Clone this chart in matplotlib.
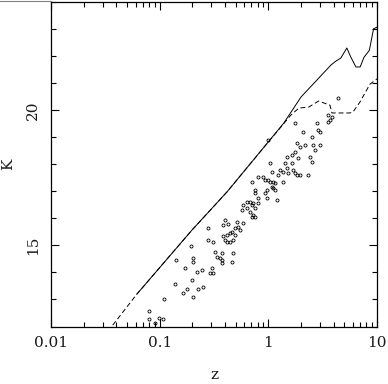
import matplotlib
matplotlib.use("Agg")
import matplotlib.pyplot as plt
from matplotlib.lines import Line2D
from matplotlib.ticker import MultipleLocator, FixedLocator, FixedFormatter, LogLocator, NullFormatter

# ── Data ──────────────────────────────────────────────────────────────────────

# solid model track
solid_z = [0.0618, 0.198, 0.416, 1.0, 1.39, 2.0, 3.77, 4.17, 4.65, 5.28,
           5.75, 6.4, 7.0, 7.6, 8.5, 9.3, 10.0]
solid_k = [13.2, 15.56, 16.97, 18.82, 19.52, 20.48, 21.66, 21.8, 21.92, 22.29,
           21.95, 21.59, 21.59, 21.95, 22.2, 23.0, 23.06]

# dashed model track
dash_z = [0.037, 0.0618, 0.198, 0.416, 1.0, 1.39, 1.6, 1.91, 2.36, 2.9,
          3.69, 3.85, 4.37, 5.63, 6.0, 6.96, 8.6, 10.0]
dash_k = [12.05, 13.2, 15.56, 16.97, 18.82, 19.5, 19.8, 20.07, 20.11, 20.33,
          20.18, 19.89, 19.89, 19.89, 19.92, 20.29, 20.95, 21.15]

# galaxies
gal_z = [0.0797, 0.0797, 0.0905, 0.0985, 0.107, 0.110, 0.138, 0.141, 0.164, 0.171,
         0.178, 0.198, 0.203, 0.203, 0.203, 0.220, 0.225, 0.194,
         0.399, 0.382, 0.425, 0.514, 0.525, 0.493, 0.462, 0.443, 0.416, 0.493,
         0.382, 0.278, 0.278, 0.309, 0.399, 0.416, 0.443, 0.472, 0.323, 0.374,
         0.472, 0.337, 0.359, 0.374, 0.462, 0.245, 0.303, 0.309, 0.290, 0.374,
         0.250, 0.548, 0.584,
         0.992, 1.833, 1.953, 2.172, 2.572, 2.684, 1.757, 1.649, 1.483, 2.414,
         1.872, 2.518, 1.421, 1.649, 1.035, 1.483, 1.684, 1.278, 1.362, 1.079,
         1.515, 1.757, 1.833, 1.953, 2.314, 1.226, 0.802, 0.892, 0.930, 0.992,
         1.035, 1.102, 1.150, 1.362, 0.706, 1.079, 1.102, 1.150, 0.971, 0.753,
         0.753, 0.930, 0.802, 0.971, 1.200, 0.635, 0.678, 0.721, 0.802, 0.706,
         0.584, 0.635, 0.572, 0.753, 0.678, 0.721, 0.753, 0.706,
         4.368, 3.535, 3.847, 3.688, 3.535, 2.800, 2.860, 2.984, 2.081, 2.518,
         2.984, 1.757]
gal_k = [12.57, 12.28, 12.13, 12.31, 12.28, 13.02, 13.57, 14.46, 13.24, 14.16,
         13.39, 13.72, 13.09, 14.53, 14.38, 14.01, 13.39, 14.97,
         15.93, 15.75, 15.79, 15.86, 15.68, 15.64, 15.49, 15.45, 15.38, 15.38,
         15.34, 15.64, 15.20, 15.12, 15.20, 15.12, 15.12, 15.20, 14.75, 14.72,
         14.72, 14.57, 14.53, 14.46, 14.38, 14.09, 14.16, 13.98, 13.98, 14.35,
         13.46, 15.56, 15.82,
         18.89, 18.78, 18.63, 18.70, 18.70, 18.52, 18.45, 18.34, 18.26, 18.26,
         18.22, 18.08, 18.04, 18.04, 18.04, 17.86, 17.78, 17.78, 17.71, 17.71,
         17.67, 17.67, 17.60, 17.60, 17.60, 17.60, 17.52, 17.52, 17.41, 17.41,
         17.34, 17.34, 17.30, 17.34, 17.34, 17.15, 17.12, 17.04, 17.04, 17.04,
         16.93, 16.93, 16.75, 16.75, 16.67, 16.60, 16.60, 16.56, 16.56, 16.49,
         16.49, 16.38, 16.30, 16.38, 16.23, 16.12, 16.05, 16.05,
         20.44, 19.81, 19.74, 19.63, 19.55, 19.52, 19.26, 19.19, 19.19, 19.00,
         18.70, 19.52]

x_major = [0.01, 0.1, 1, 10]
x_labels = ["0.01", "0.1", "1", "10"]

# ── Figure ────────────────────────────────────────────────────────────────────

FONT = "DejaVu Serif"
FS = 11
INK = "#1a1a1a"

fig = plt.figure(figsize=(3.88, 3.84), dpi=100)
ax = fig.add_axes([0.1314, 0.1497, 0.8402, 0.8458])

ax.plot(solid_z, solid_k, color="black", lw=0.7, solid_joinstyle="round")
ax.plot(dash_z, dash_k, color="black", lw=0.7, dashes=(5, 3))
ax.plot(gal_z, gal_k, ls="none", marker="o", ms=2.2, mfc="none",
        mec="black", mew=0.6)

ax.set_xscale("log")
ax.set_xlim(0.01, 10)
ax.set_ylim(12, 24)

ax.xaxis.set_major_locator(FixedLocator(x_major))
ax.xaxis.set_major_formatter(FixedFormatter(x_labels))
ax.xaxis.set_minor_locator(LogLocator(base=10, subs=range(2, 10)))
ax.xaxis.set_minor_formatter(NullFormatter())
ax.yaxis.set_major_locator(MultipleLocator(5))
ax.yaxis.set_minor_locator(MultipleLocator(1))

ax.tick_params(which="both", direction="in", top=True, right=True,
               color="black", width=0.8)
ax.tick_params(which="major", length=6)
ax.tick_params(which="minor", length=3.3)
ax.tick_params(axis="x", which="major", pad=7, labelsize=FS, labelcolor=INK)
ax.tick_params(axis="y", which="major", pad=8, labelsize=FS, labelcolor=INK)

for lab in ax.get_xticklabels() + ax.get_yticklabels():
    lab.set_fontfamily(FONT)
for lab in ax.get_yticklabels():
    lab.set_rotation(90)
    lab.set_va("center")

for sp in ax.spines.values():
    sp.set_linewidth(0.9)

ax.set_xlabel("z", fontsize=FS, fontfamily=FONT, color=INK, va="baseline")
ax.xaxis.set_label_coords(0.5, -0.162)
ax.set_ylabel("K", fontsize=FS, fontfamily=FONT, color=INK, va="center", ha="center")
ax.yaxis.set_label_coords(-0.132, 0.5)

# stray border line at the top left of the original
fig.add_artist(Line2D([0, 0.1314], [0.998, 0.998], color="#808080", lw=0.8,
                      transform=fig.transFigure))

fig.savefig("out.png", dpi=100)
